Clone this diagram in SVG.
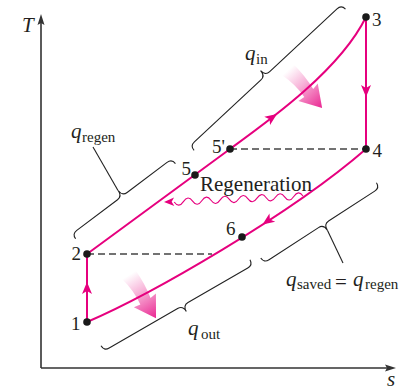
<svg xmlns="http://www.w3.org/2000/svg" width="409" height="391" viewBox="0 0 409 391">
<style>
.axis{stroke:#333;stroke-width:1.6;fill:none}
.pk{stroke:#e6007e;stroke-width:2;fill:none}
.dash{stroke:#444;stroke-width:1.3;stroke-dasharray:7 4;fill:none}
.br{stroke:#222;stroke-width:1.1;fill:none}
.dot{fill:#1a1a1a}
text{font-family:"Liberation Serif","Times New Roman",serif;fill:#231f20}
.num{font-size:19px}
.qi{font-size:21px;font-style:italic}
.sub{font-size:15px}
.ah{fill:#e6007e}
</style>
<defs>
<path id="ah" d="M0,0 L-12,-5 L-9,0 L-12,5 Z"/>
<linearGradient id="g" gradientUnits="userSpaceOnUse" x1="0" y1="0" x2="51" y2="0">
<stop offset="0" stop-color="#e6007e" stop-opacity="0"/>
<stop offset="0.4" stop-color="#e6007e" stop-opacity="0.3"/>
<stop offset="1" stop-color="#e6007e" stop-opacity="0.85"/>
</linearGradient>
<path id="big" d="M0,-8 Q16,-9 31,-6 L30,-13 L51,0 L30,13 L31,6 Q16,4 0,8 Z"/>
</defs>

<g id="axes">
<path class="axis" d="M41,368 V22 M41,368 H388"/>
<polygon fill="#333" points="41,14 37.5,25 41,23 44.5,25"/>
<polygon fill="#333" points="396,368 385,364.5 387,368 385,371.5"/>
<text class="qi" x="22" y="32" font-size="20">T</text>
<text class="qi" x="387" y="386" font-size="20">s</text>
</g>

<g id="heat-arrows">
<use href="#big" fill="url(#g)" transform="translate(288,70) rotate(48)"/>
<use href="#big" fill="url(#g)" transform="translate(129,275) rotate(58)"/>
</g>

<g id="connectors">
<path class="pk" d="M87,254 L230,149 C270,120 340,70 366,17"/>
<path class="pk" d="M87,322 C150,295 290,215 366,149"/>
<path class="pk" d="M87,322 V254"/>
<path class="pk" d="M366,17 V149"/>
<path class="dash" d="M87,254 H212"/>
<path class="dash" d="M230,149 H366"/>
<path d="M303,196 q-4.6,-6.5 -9.2,0.43 t-9.2,0.43 t-9.2,0.43 t-9.2,0.43 t-9.2,0.43 t-9.2,0.43 t-9.2,0.43 t-9.2,0.43 t-9.2,0.43 t-9.2,0.43 t-9.2,0.43 t-9.2,0.43 t-9.2,0.43 t-9.2,0.43" stroke="#e6007e" stroke-width="1.1" fill="none"/>
<use href="#ah" class="ah" transform="translate(277,114) rotate(-35)"/>
<use href="#ah" class="ah" transform="translate(366,97) rotate(90)"/>
<use href="#ah" class="ah" transform="translate(87,282) rotate(-90)"/>
<use href="#ah" class="ah" transform="translate(262.5,224.6) rotate(145)"/>
<use href="#ah" class="ah" transform="translate(164,202) rotate(178) scale(0.85)"/>
</g>

<g id="braces">
<path class="br" transform="translate(190,146) rotate(-43)" d="M0,6 Q0,0 6,0 L97,0 Q103,0 103,-7 Q103,0 109,0 L201,0 Q207,0 207,6"/>
<path class="br" transform="translate(72,234) rotate(-37)" d="M0,6 Q0,0 6,0 L57,0 Q63,0 63,-7 Q63,0 69,0 L119,0 Q125,0 125,6"/>
<path class="br" d="M118,190.5 L93,147"/>
<path class="br" transform="translate(104,351) rotate(-30)" d="M0,-6 Q0,0 6,0 L85,0 Q91,0 91,7 Q91,0 97,0 L166,0 Q172,0 172,-6"/>
<path class="br" transform="translate(264,263) rotate(-33)" d="M0,-6 Q0,0 6,0 L65,0 Q71,0 71,7 Q71,0 77,0 L132,0 Q138,0 138,-6"/>
<path class="br" d="M327.4,230.2 L343,263"/>
</g>

<g id="p1"><circle class="dot" cx="87" cy="322" r="3.8"/><text class="num" x="71" y="330">1</text></g>
<g id="p2"><circle class="dot" cx="87" cy="254" r="3.8"/><text class="num" x="71.5" y="260">2</text></g>
<g id="p3"><circle class="dot" cx="366" cy="17" r="3.8"/><text class="num" x="372" y="26">3</text></g>
<g id="p4"><circle class="dot" cx="366" cy="149" r="3.8"/><text class="num" x="372.5" y="157">4</text></g>
<g id="p5p"><circle class="dot" cx="230" cy="149" r="3.8"/><text class="num" x="212" y="153">5'</text></g>
<g id="p5"><circle class="dot" cx="195" cy="175" r="3.8"/><text class="num" x="181.5" y="175">5</text></g>
<g id="p6"><circle class="dot" cx="242" cy="237" r="3.8"/><text class="num" x="226" y="235">6</text></g>

<g id="labels">
<text x="200" y="191" font-size="21">Regeneration</text>
<text class="qi" x="245" y="60">q</text><text class="sub" x="256" y="63.5">in</text>
<text class="qi" x="71" y="138">q</text><text class="sub" x="82" y="141.5">regen</text>
<text class="qi" x="188" y="334.5">q</text><text class="sub" x="201" y="339">out</text>
<text class="qi" x="286" y="285.5">q</text><text class="sub" x="297" y="289">saved</text>
<text x="335" y="288.5" font-size="21">=</text>
<text class="qi" x="353" y="285.5">q</text><text class="sub" x="365" y="289">regen</text>
</g>
</svg>
